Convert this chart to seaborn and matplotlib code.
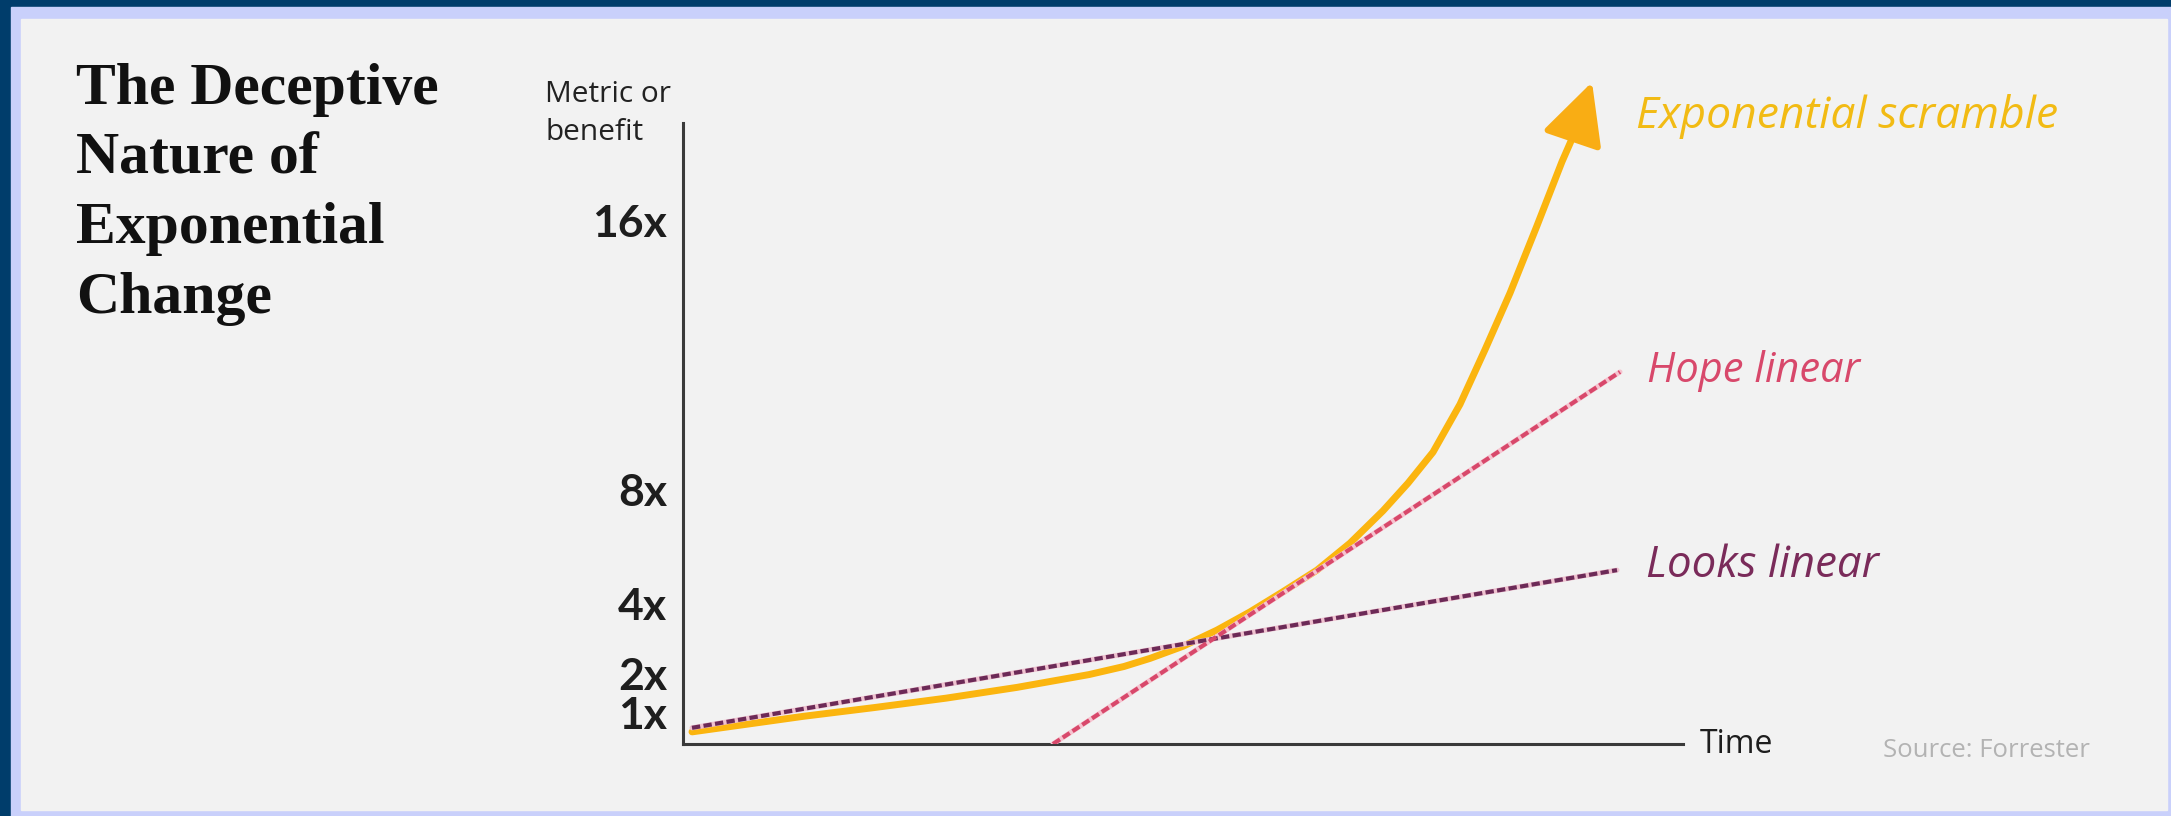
import matplotlib
matplotlib.use('Agg')
import matplotlib.pyplot as plt
from matplotlib.patches import Rectangle
import seaborn as sns

# values: time and height in % of the axis length
exp_time = [0.9, 6.7, 12.0, 19.1, 26.3, 33.4, 40.6, 44.1, 46.7, 50.0, 53.4, 56.7,
            60.0, 63.4, 66.7, 70.0, 72.5, 75.0, 77.7, 80.2, 82.7, 85.4, 87.9, 89.2, 90.9]
exp_value = [1.8, 3.0, 4.1, 5.4, 6.8, 8.4, 10.3, 11.5, 12.7, 14.5, 16.9, 19.6,
             22.6, 25.8, 29.8, 34.6, 38.7, 43.3, 50.4, 58.5, 66.9, 76.9, 86.4, 90.8, 98.2]
looks_time = [0.9, 93.4]
looks_value = [2.4, 25.8]
hope_time = [37.0, 93.7]
hope_value = [0.0, 55.2]
tick_pos = [4.7, 10.4, 20.8, 37.8, 77.7]
tick_labels = ['1x', '2x', '4x', '8x', '16x']
title_lines = ['The Deceptive', 'Nature of', 'Exponential', 'Change']

sns.set_theme(style='white')
plt.rcParams['font.family'] = ['Open Sans', 'DejaVu Sans']

W, H = 2171, 816
fig = plt.figure(figsize=(W / 100, H / 100), dpi=100, facecolor='#003d6b')
# lavender frame and light panel
fig.add_artist(Rectangle((11 / W, 0), 1, 809 / H, transform=fig.transFigure,
                         color='#c9d0fb', zorder=-2))
fig.add_artist(Rectangle((21 / W, 6 / H), 2146 / W, 791 / H, transform=fig.transFigure,
                         color='#f2f2f2', zorder=-1))

ax = fig.add_axes([683 / W, 72 / H, 1000 / W, 674 / H])
ax.set_facecolor('none')

# exponential curve with arrow head
orange = '#fbb50f'
sns.lineplot(x=exp_time[:-1], y=exp_value[:-1], color=orange, linewidth=5,
             sort=False, ax=ax, zorder=3)
ax.annotate('', xy=(exp_time[-1], exp_value[-1]), xytext=(exp_time[-2], exp_value[-2]),
            arrowprops=dict(arrowstyle='-|>,head_length=1.0,head_width=0.5',
                            mutation_scale=38, color='#f9ad14', lw=4.5,
                            shrinkA=0, shrinkB=0),
            annotation_clip=False, zorder=3)

# dotted "linear" lines, pale halo under the dashes
sns.lineplot(x=looks_time, y=looks_value, color='#efc1cf', linewidth=3.6, ax=ax, zorder=4)
sns.lineplot(x=looks_time, y=looks_value, color='#6c2a57', linewidth=3,
             linestyle=(0, (2.0, 0.8)), ax=ax, zorder=5)
sns.lineplot(x=hope_time, y=hope_value, color='#f6c3cf', linewidth=3.6, ax=ax, zorder=4)
sns.lineplot(x=hope_time, y=hope_value, color='#d8486b', linewidth=3,
             linestyle=(0, (2.0, 0.8)), ax=ax, zorder=5)

ax.set_xlim(0, 100)
ax.set_ylim(0, 100)
ax.set_xticks([])
ax.set_yticks(tick_pos, tick_labels)
ax.tick_params(axis='y', length=0, pad=11.5, labelsize=32, labelcolor='#1e1e1e')
for lab in ax.get_yticklabels():
    lab.set_fontfamily('Lato')
    lab.set_fontweight('bold')

sns.despine(ax=ax)
for side in ['left', 'bottom']:
    ax.spines[side].set_color('#3a3a3a')
    ax.spines[side].set_linewidth(2.2)
ax.spines['left'].set_bounds(0, 92.1)

# labels
ax.text(95.3, 91.4, 'Exponential scramble', color='#f2bb14', fontsize=32,
        style='italic', va='baseline')
ax.text(96.4, 53.7, 'Hope linear', color='#d8486b', fontsize=30,
        style='italic', va='baseline')
ax.text(96.3, 24.8, 'Looks linear', color='#7a2b5a', fontsize=31.5,
        style='italic', va='baseline')
ax.text(101.7, -1.34, 'Time', color='#1e1e1e', fontsize=23, va='baseline')
ax.text(120.0, -1.9, 'Source: Forrester', color='#b3b3b3', fontsize=18.5, va='baseline')
ax.text(-13.8, 95.3, 'Metric or', color='#222222', fontsize=21.5, va='baseline')
ax.text(-13.8, 89.6, 'benefit', color='#222222', fontsize=21.5, va='baseline')

for i, line in enumerate(title_lines):
    fig.text(76 / W, 1 - (104 + 69.5 * i) / H, line, family='Liberation Serif',
             weight='bold', size=43, color='#111111', va='baseline')

fig.savefig('out.png', dpi=100, facecolor=fig.get_facecolor())
